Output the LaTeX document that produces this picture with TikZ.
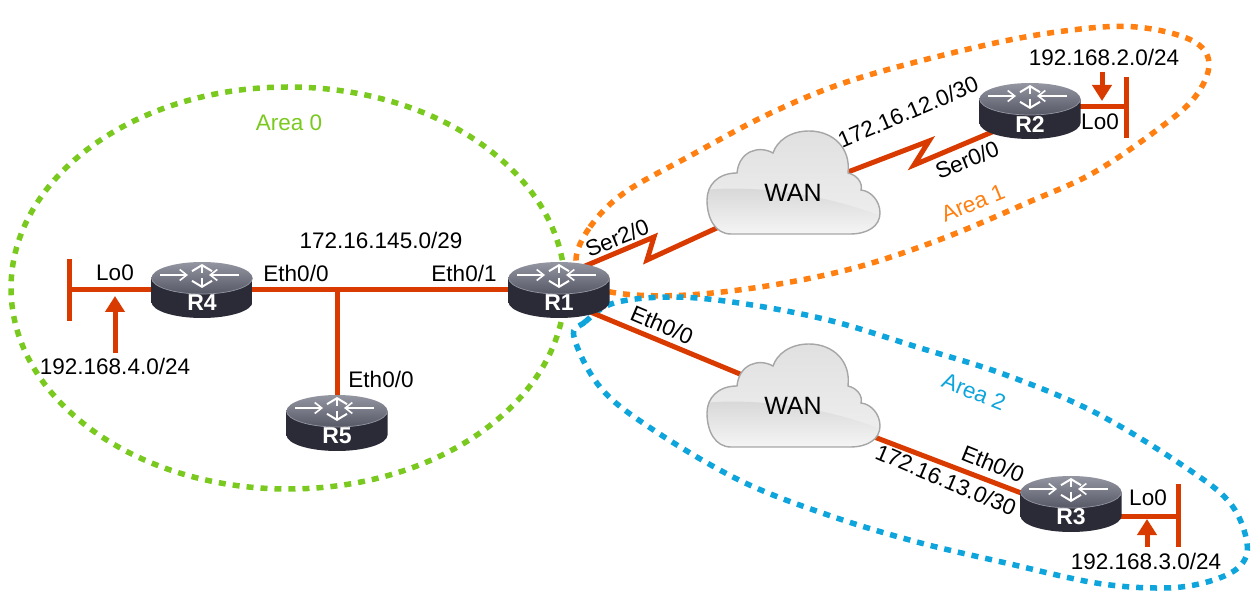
\documentclass[tikz,border=0pt]{standalone}
\usepackage{fontspec}
\setmainfont{Liberation Sans}
\usetikzlibrary{arrows.meta,backgrounds}
\definecolor{linkred}{HTML}{D83A00}
\definecolor{areagreen}{HTML}{7AC91F}
\definecolor{areaorange}{HTML}{FF7F11}
\definecolor{areablue}{HTML}{0EA5DC}
\definecolor{routerdark}{HTML}{2A2B36}
\definecolor{routermid}{HTML}{5C5E7C}
\definecolor{routertop}{HTML}{9496A2}
\definecolor{routerlow}{HTML}{565866}
\tikzset{
	link/.style={draw=linkred, line width=5pt},
	netarrow/.style={link, -{Stealth[length=16pt,width=19pt,inset=0pt]}},
	area/.style={line width=5.5pt, dash pattern=on 7pt off 7pt},
	lbl/.style={inner sep=0pt, font=\fontsize{22.5}{26}\selectfont},
	arealbl/.style={lbl, text=#1},
	rname/.style={text=white, inner sep=0pt, yshift=-13pt, font=\fontsize{23}{26}\selectfont\bfseries},
	wname/.style={inner sep=0pt, font=\fontsize{25}{28}\selectfont},
	router/.style={minimum width=102pt, minimum height=57pt, inner sep=0pt,
		label={[rname]center:#1},
		path picture={
			\begin{scope}[shift={(path picture bounding box.center)}]
				\shade[left color=routerdark, middle color=routermid, right color=routerdark]
					(-50.5,-12) -- (-50.5,12) arc[start angle=180, end angle=360, x radius=50.5pt, y radius=16pt] -- (50.5,-12) -- cycle;
				\shade[top color=routertop, bottom color=routerlow] (0,-12) ellipse[x radius=50.5pt, y radius=16pt];
				\draw[routertop, line width=.7pt] (-50.5,-12) arc[start angle=180, end angle=360, x radius=50.5pt, y radius=16pt];
				\foreach \sx/\ex in {-42/-14, 37/7}
					\draw[white, line width=1.6pt, -{Straight Barb[length=7pt,width=11pt]}] (\sx,-15) -- (\ex,-15);
				\foreach \vy/\wy in {-17/-26, -12/-2}
					\draw[white, line width=2pt, -{Straight Barb[length=6pt,width=20pt]}] (0,\vy) -- (0,\wy);
			\end{scope}
		}},
	wan/.style={minimum width=178pt, minimum height=130pt, inner sep=0pt,
		label={[wname]center:#1},
		path picture={
			\begin{scope}[shift={(path picture bounding box.center)}]
				\def\cloudpath{(-62,41) -- (57,41) .. controls (75,41) and (87,33) .. (87,20) .. controls (87,8) and (78,-2) .. (68,-3)
					.. controls (70,-10) and (64,-18) .. (55,-20) .. controls (58,-45) and (40,-62) .. (16,-62)
					.. controls (-3,-62) and (-16,-52) .. (-20,-40) .. controls (-34,-48) and (-54,-42) .. (-56,-20)
					.. controls (-75,-20) and (-86,-8) .. (-86,7) .. controls (-86,25) and (-78,41) .. (-62,41) -- cycle}
				\shade[top color=black!12, bottom color=black!6] \cloudpath;
				\begin{scope}
					\clip \cloudpath;
					\shade[top color=black!16, bottom color=black!3] (-90,-3) .. controls (-40,-8) and (30,0) .. (90,24) -- (90,45) -- (-90,45) -- cycle;
				\end{scope}
				\draw[black!35, line width=1.4pt] \cloudpath;
			\end{scope}
		}},
}
\begin{document}
\begin{tikzpicture}[x=1pt, y=-1pt]
	\useasboundingbox (0,0) rectangle (1259,601);
	\node[router=R1] (r1) at (559,290) {};
	\node[router=R2] (r2) at (1030,111) {};
	\node[router=R3] (r3) at (1071,504) {};
	\node[router=R4] (r4) at (202,290) {};
	\node[router=R5] (r5) at (337,423) {};
	\node[wan=WAN] (wan1) at (793,193) {};
	\node[wan=WAN] (wan2) at (793,406) {};
	\coordinate (lan) at (337,290);
	\coordinate (lo4) at (69,290);
	\coordinate (lo4top) at (69,259);
	\coordinate (lo4bot) at (69,321);
	\coordinate (lo2) at (1126,107);
	\coordinate (lo2top) at (1126,77);
	\coordinate (lo2bot) at (1126,138);
	\coordinate (lo3) at (1178,516);
	\coordinate (lo3top) at (1178,484);
	\coordinate (lo3bot) at (1178,547);
	\coordinate (ser2a) at (654,237);
	\coordinate (ser2b) at (647,260);
	\coordinate (ser0a) at (929,141);
	\coordinate (ser0b) at (914,165);
	\coordinate (net4) at (115,353);
	\coordinate (net4tip) at (115,296);
	\coordinate (net2) at (1102,72);
	\coordinate (net2tip) at (1102,101);
	\coordinate (net3) at (1147,547);
	\coordinate (net3tip) at (1147,519);
	\begin{scope}[on background layer]
		\draw[area, areagreen] (288,288) ellipse[x radius=277pt, y radius=201pt];
		\draw[area, areaorange] plot[smooth cycle, tension=.6] coordinates {(576,260) (590,227) (624,193) (688,157) (773,112) (859,78) (986,45) (1072,30) (1136,27) (1191,40) (1209,63) (1195,97) (1157,130) (1093,173) (1029,202) (944,238) (858,267) (773,285) (688,295) (624,294) (590,284)};
		\draw[area, areablue] plot[smooth cycle, tension=.6] coordinates {(574,337) (585,322) (614,303) (672,297) (739,303) (828,320) (917,347) (1006,375) (1096,413) (1185,467) (1230,503) (1247,543) (1239,567) (1207,582) (1163,588) (1096,583) (1006,563) (917,542) (828,515) (739,480) (649,427) (600,387)};
		\draw[link] (lo4) -- (r4.center);
		\draw[link] (lo4top) -- (lo4bot);
		\draw[link] (r4.center) -- (r1.center);
		\draw[link] (lan) -- (r5.center);
		\draw[link] (lo2) -- (r2.center |- lo2);
		\draw[link] (lo2top) -- (lo2bot);
		\draw[link] (lo3) -- (r3.center |- lo3);
		\draw[link] (lo3top) -- (lo3bot);
		\draw[link, miter limit=10] ([yshift=13pt]r1.center) -- (ser2a) -- (ser2b) -- (wan1.center);
		\draw[link, miter limit=10] (wan1.center) -- (ser0a) -- (ser0b) -- ([yshift=-5pt]r2.center);
		\draw[link] ([yshift=-9pt]r1.center) -- ([yshift=10pt]wan2.center);
		\draw[link] (wan2.center) -- ([yshift=-8pt]r3.center);
	\end{scope}
	\draw[netarrow] (net4) -- (net4tip);
	\draw[netarrow] (net2) -- (net2tip);
	\draw[netarrow] (net3) -- (net3tip);
	\node[arealbl=areagreen] (area0) at (289,123) {Area 0};
	\node[arealbl=areaorange, rotate=22] (area1) at (973,203) {Area 1};
	\node[arealbl=areablue, rotate=-22] (area2) at (974,392) {Area 2};
	\node[lbl] (lan145) at (381,240) {172.16.145.0/29};
	\node[lbl] (r4lo) at (115,273) {Lo0};
	\node[lbl] (r4eth) at (296,273) {Eth0/0};
	\node[lbl] (r1eth1) at (464,273) {Eth0/1};
	\node[lbl] (r5eth) at (381,379) {Eth0/0};
	\node[lbl] (lan4) at (115,366) {192.168.4.0/24};
	\node[lbl, rotate=22] (r1ser) at (617,238) {Ser2/0};
	\node[lbl, rotate=-23] (r1eth0) at (662,325) {Eth0/0};
	\node[lbl, rotate=23] (wan12) at (908,112) {172.16.12.0/30};
	\node[lbl, rotate=22] (r2ser) at (967,160) {Ser0/0};
	\node[lbl] (r2lo) at (1100,122) {Lo0};
	\node[lbl] (lan2) at (1104,57) {192.168.2.0/24};
	\node[lbl, rotate=-23] (wan13) at (946,480) {172.16.13.0/30};
	\node[lbl, rotate=-22] (r3eth) at (993,464) {Eth0/0};
	\node[lbl] (r3lo) at (1148,498) {Lo0};
	\node[lbl] (lan3) at (1146,561) {192.168.3.0/24};
\end{tikzpicture}
\end{document}
